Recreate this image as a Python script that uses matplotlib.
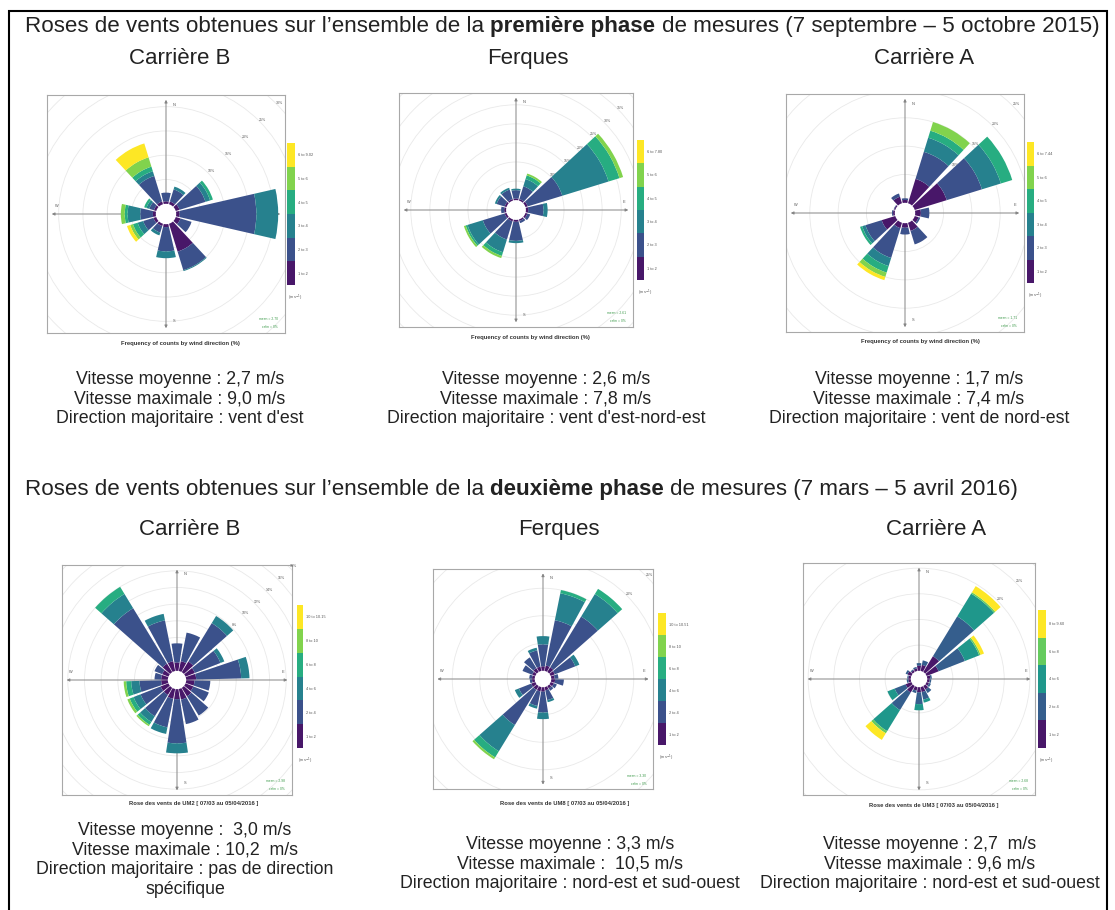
import numpy as np
import matplotlib
matplotlib.use("Agg")
import matplotlib.pyplot as plt
from matplotlib.colors import ListedColormap, BoundaryNorm
from matplotlib.cm import ScalarMappable
from matplotlib.patches import Circle, Rectangle

W, H = 1115, 910
TXT = "#222222"
plt.rcParams["font.family"] = ["Liberation Sans", "DejaVu Sans"]

# ---- data (frequency in % per direction, stacked by wind-speed class) ----
DIRS_P1 = [0, 30, 60, 90, 120, 150, 180, 210, 240, 270, 300, 330]
DIRS_P2 = [0, 20, 40, 60, 80, 100, 120, 140, 160, 180, 200, 220, 240, 260, 280, 300, 320, 340]

CB1 = [[0.5, 1.8, 0, 0, 0, 0], [0.6, 2.6, 0.6, 0, 0, 0], [0.8, 5.6, 1.0, 0.6, 0, 0],
       [0.7, 15.8, 4.5, 0, 0, 0], [1.0, 2.4, 0, 0, 0, 0], [6.0, 4.0, 0.2, 0, 0, 0],
       [0.6, 5.0, 1.4, 0, 0, 0], [0.5, 1.4, 0.6, 0, 0, 0], [0.6, 2.2, 1.2, 1.0, 0.6, 0.7],
       [0.6, 2.6, 2.6, 0.6, 0.8, 0], [0.5, 1.0, 0.6, 0.5, 0, 0], [0.6, 5.5, 1.0, 1.0, 2.0, 3.0]]
FQ1 = [[0.4, 2.2, 0.4, 0, 0, 0], [0.4, 3.5, 2.0, 1.0, 0.5, 0], [0.6, 9.5, 12.7, 3.0, 1.0, 0],
       [0.6, 4.0, 1.1, 0, 0, 0], [0.5, 0.8, 0, 0, 0, 0], [0.4, 0.6, 0, 0, 0, 0],
       [0.5, 5.0, 0.6, 0, 0, 0], [0.5, 5.0, 3.5, 1.0, 0.6, 0], [0.5, 6.0, 4.2, 0.5, 0.5, 0],
       [0.5, 0.8, 0, 0, 0, 0], [0.5, 2.2, 0.5, 0, 0, 0], [0.4, 2.6, 0.5, 0, 0, 0]]
CA1 = [[0.5, 0.3, 0, 0, 0, 0], [4.5, 5.0, 2.6, 1.3, 1.6, 0], [5.9, 6.5, 3.5, 2.1, 0, 0],
       [1.0, 1.5, 0, 0, 0, 0], [0.7, 0.3, 0, 0, 0, 0], [1.5, 2.5, 0, 0, 0, 0],
       [0.8, 1.2, 0, 0, 0, 0], [1.0, 5.5, 1.5, 1.2, 0.8, 0.6], [2.5, 3.0, 0.6, 0.4, 0, 0],
       [0.3, 0.2, 0, 0, 0, 0], [0.2, 0.1, 0, 0, 0, 0], [1.2, 0.6, 0, 0, 0, 0]]
CB2 = [[1.0, 2.3, 0, 0, 0, 0], [1.2, 3.5, 0, 0, 0, 0], [1.5, 5.4, 1.0, 0, 0, 0],
       [1.2, 3.3, 0.5, 0, 0, 0], [1.2, 5.4, 1.0, 0, 0, 0], [1.0, 1.9, 0, 0, 0, 0],
       [1.0, 2.0, 0, 0, 0, 0], [1.2, 2.7, 0, 0, 0, 0], [1.3, 3.0, 0, 0, 0, 0],
       [1.2, 5.3, 1.2, 0, 0, 0], [1.2, 3.5, 0.8, 0, 0, 0], [1.0, 3.0, 0.8, 0.4, 0.2, 0],
       [1.0, 2.6, 0.9, 0.5, 0.3, 0], [0.8, 2.6, 1.0, 0.6, 0.3, 0], [0.8, 0.8, 0, 0, 0, 0],
       [0.8, 1.0, 0, 0, 0, 0], [1.2, 7.8, 2.0, 1.0, 0, 0], [1.2, 5.0, 0.8, 0, 0, 0]]
FQ2 = [[0.8, 4.0, 1.5, 0, 0, 0], [1.0, 8.4, 5.0, 0.6, 0, 0], [1.0, 10.8, 4.8, 1.1, 0, 0],
       [0.8, 4.0, 0.8, 0, 0, 0], [0.6, 0.7, 0, 0, 0, 0], [0.7, 1.6, 0, 0, 0, 0],
       [0.6, 0.6, 0, 0, 0, 0], [0.5, 0.5, 0, 0, 0, 0], [0.6, 1.8, 0.4, 0, 0, 0],
       [0.8, 3.8, 1.2, 0, 0, 0], [0.8, 2.7, 0.5, 0, 0, 0], [0.8, 7.5, 5.6, 1.3, 0.4, 0],
       [0.8, 2.4, 0.8, 0, 0, 0], [0.5, 0.4, 0, 0, 0, 0], [0.5, 0.5, 0, 0, 0, 0],
       [0.6, 1.9, 0, 0, 0, 0], [0.8, 2.3, 0, 0, 0, 0], [0.8, 3.0, 0.5, 0, 0, 0]]
CA2 = [[1.0, 0.5, 0, 0, 0], [1.2, 0.9, 0, 0, 0], [3.6, 9.1, 5.2, 0.3, 1.4],
       [2.5, 5.5, 3.0, 0.3, 0.7], [0.6, 0.3, 0, 0, 0], [0.5, 0.3, 0, 0, 0],
       [0.5, 0.4, 0, 0, 0], [0.8, 0.8, 0, 0, 0], [1.0, 1.5, 0.6, 0, 0],
       [1.0, 2.3, 1.2, 0, 0], [0.7, 0.5, 0, 0, 0], [1.5, 4.0, 4.8, 0.5, 1.5],
       [1.2, 2.3, 1.5, 0, 0], [0.5, 0.3, 0, 0, 0], [0.5, 0.2, 0, 0, 0],
       [0.8, 0.4, 0, 0, 0], [0.4, 0.2, 0, 0, 0], [0.5, 0.3, 0, 0, 0]]

SPEEDS_CB1 = ["1 to 2", "2 to 3", "3 to 4", "4 to 5", "5 to 6", "6 to 9.02"]
SPEEDS_FQ1 = ["1 to 2", "2 to 3", "3 to 4", "4 to 5", "5 to 6", "6 to 7.80"]
SPEEDS_CA1 = ["1 to 2", "2 to 3", "3 to 4", "4 to 5", "5 to 6", "6 to 7.44"]
SPEEDS_CB2 = ["1 to 2", "2 to 4", "4 to 6", "6 to 8", "8 to 10", "10 to 10.15"]
SPEEDS_FQ2 = ["1 to 2", "2 to 4", "4 to 6", "6 to 8", "8 to 10", "10 to 10.51"]
SPEEDS_CA2 = ["1 to 2", "2 to 4", "4 to 6", "6 to 8", "8 to 9.60"]

MEANS = ["mean = 2.70", "mean = 2.61", "mean = 1.71", "mean = 2.98", "mean = 3.30", "mean = 2.68"]

STATS_P1 = [
    ["Vitesse moyenne : 2,7 m/s", "Vitesse maximale : 9,0 m/s", "Direction majoritaire : vent d'est"],
    ["Vitesse moyenne : 2,6 m/s", "Vitesse maximale : 7,8 m/s", "Direction majoritaire : vent d'est-nord-est"],
    ["Vitesse moyenne : 1,7 m/s", "Vitesse maximale : 7,4 m/s", "Direction majoritaire : vent de nord-est"],
]
STATS_P2 = [
    ["Vitesse moyenne :  3,0 m/s", "Vitesse maximale : 10,2  m/s", "Direction majoritaire : pas de direction", "spécifique"],
    ["Vitesse moyenne : 3,3 m/s", "Vitesse maximale :  10,5 m/s", "Direction majoritaire : nord-est et sud-ouest"],
    ["Vitesse moyenne : 2,7  m/s", "Vitesse maximale : 9,6 m/s", "Direction majoritaire : nord-est et sud-ouest"],
]
SITES = ["Carrière B", "Ferques", "Carrière A"]


def fx(x):
    return x / W


def fy(y):
    return 1 - y / H


def draw_rose(fig, cx, cy, half, dirs, segs, speeds, offset, lim, step, pct, mean, caption, cap_xy, cbar):
    rect = [fx(cx - half), fy(cy + half), 2 * half / W, 2 * half / H]
    ax = fig.add_axes(rect)
    ax.set_xlim(-lim, lim)
    ax.set_ylim(-lim, lim)
    ax.set_xticks([])
    ax.set_yticks([])
    for s in ax.spines.values():
        s.set_color("#a8a8a8")
        s.set_linewidth(0.8)
    k = 1
    while offset + k * step < lim * 1.45:
        r = offset + k * step
        ax.add_patch(Circle((0, 0), r, fill=False, ec="#e9e9e9", lw=0.6))
        if r * 0.7071 < lim * 0.98 and k >= 2:
            ax.text(r * 0.7071 + lim * 0.03, r * 0.7071 + lim * 0.01, "%d%%" % (k * pct),
                    fontsize=2.6, color="#555", ha="center", va="center")
        k += 1
    arrow = dict(arrowstyle="<|-|>", color="#858585", lw=0.7, mutation_scale=4, shrinkA=0, shrinkB=0)
    ax.annotate("", xy=(0, lim * 0.96), xytext=(0, -lim * 0.96), arrowprops=arrow)
    ax.annotate("", xy=(lim * 0.96, 0), xytext=(-lim * 0.96, 0), arrowprops=arrow)
    ax.add_patch(Circle((0, 0), offset, color="white", zorder=5))
    lab = dict(fontsize=2.8, color="#555", ha="center", va="center")
    ax.text(lim * 0.07, lim * 0.92, "N", **lab)
    ax.text(lim * 0.07, -lim * 0.9, "S", **lab)
    ax.text(lim * 0.92, lim * 0.07, "E", **lab)
    ax.text(-lim * 0.92, lim * 0.07, "W", **lab)
    ax.text(0.97, 0.055, mean, transform=ax.transAxes, fontsize=2.4, color="#3c9a4a", ha="right")
    ax.text(0.97, 0.02, "calm = 0%", transform=ax.transAxes, fontsize=2.4, color="#3c9a4a", ha="right")

    n = len(speeds)
    colors = plt.cm.viridis(np.linspace(0.06, 1.0, n))
    pax = fig.add_axes(rect, projection="polar")
    pax.set_theta_zero_location("N")
    pax.set_theta_direction(-1)
    pax.set_ylim(0, lim)
    pax.axis("off")
    segs = np.array(segs, dtype=float)
    theta = np.deg2rad(dirs)
    width = np.deg2rad((dirs[1] - dirs[0]) * 0.86)
    bottom = np.full(len(dirs), float(offset))
    for j in range(n):
        pax.bar(theta, segs[:, j], width=width, bottom=bottom, color=colors[j], edgecolor="none", linewidth=0)
        bottom += segs[:, j]

    x0, y0, x1, y1 = cbar
    cax = fig.add_axes([fx(x0), fy(y1), (x1 - x0) / W, (y1 - y0) / H])
    sm = ScalarMappable(norm=BoundaryNorm(np.arange(n + 1), n), cmap=ListedColormap(colors))
    cb = fig.colorbar(sm, cax=cax, ticks=np.arange(n) + 0.5)
    cb.ax.set_yticklabels(speeds, fontsize=2.8, color="#555")
    cb.ax.minorticks_off()
    cb.ax.tick_params(which="both", length=0, pad=2)
    cb.outline.set_visible(False)
    fig.text(fx(x0 + 1), fy(y1 + 14), "(m s$^{-1}$)", fontsize=2.8, color="#555")
    fig.text(fx(cap_xy[0]), fy(cap_xy[1]), caption, fontsize=4.2, fontweight="bold",
             color="#333", ha="center", va="center")


def text_width(fig, r, s, size, weight="normal"):
    t = fig.text(0, 0, s, fontsize=size, fontweight=weight)
    w = t.get_window_extent(r).width
    t.remove()
    return w


def rich_line(fig, r, x, y, parts, size):
    space = text_width(fig, r, "x x", size) - text_width(fig, r, "xx", size)
    for s, weight in parts:
        t = fig.text(fx(x), fy(y), s, fontsize=size, fontweight=weight, va="baseline", color=TXT)
        x += t.get_window_extent(r).width + space


fig = plt.figure(figsize=(W / 100, H / 100), dpi=100)
fig.patch.set_facecolor("white")
r = fig.canvas.get_renderer()

title1 = [("Roses de vents obtenues sur l’ensemble de la", "normal"), ("première phase", "bold"),
          ("de mesures (7 septembre – 5 octobre 2015)", "normal")]
title2 = [("Roses de vents obtenues sur l’ensemble de la", "normal"), ("deuxième phase", "bold"),
          ("de mesures (7 mars – 5 avril 2016)", "normal")]

# fit title size to the target width
base = 12
sp = text_width(fig, r, "x x", base) - text_width(fig, r, "xx", base)
tw = sum(text_width(fig, r, s, base, w) for s, w in title1) + 2 * sp
tsize = base * 1073 / tw

rich_line(fig, r, 25, 32, title1, tsize)
rich_line(fig, r, 25, 495, title2, tsize)

fig.add_artist(Rectangle((fx(9), fy(915)), (1107 - 9) / W, (915 - 11) / H,
                         transform=fig.transFigure, fill=False, ec="black", lw=1.5))

HEAD = 16.0
STAT = 12.8
for name, x in zip(SITES, [180, 528, 924]):
    fig.text(fx(x), fy(64), name, fontsize=HEAD, ha="center", va="baseline", color=TXT)
for name, x in zip(SITES, [190, 559, 936]):
    fig.text(fx(x), fy(535), name, fontsize=HEAD, ha="center", va="baseline", color=TXT)

for lines, x in zip(STATS_P1, [180, 546, 919]):
    for i, s in enumerate(lines):
        fig.text(fx(x), fy(384 + 19.5 * i), s, fontsize=STAT, ha="center", va="baseline", color=TXT)
for lines, x, y in zip(STATS_P2, [185, 570, 930], [835, 849, 849]):
    for i, s in enumerate(lines):
        fig.text(fx(x), fy(y + 19.5 * i), s, fontsize=STAT, ha="center", va="baseline", color=TXT)

cap1 = "Frequency of counts by wind direction (%)"
draw_rose(fig, 166, 214, 119, DIRS_P1, CB1, SPEEDS_CB1, 2.1, 24.5, 5, 5, MEANS[0],
          cap1, (180, 343), (287, 143, 295, 285))
draw_rose(fig, 516, 210, 117, DIRS_P1, FQ1, SPEEDS_FQ1, 2.6, 30.7, 5, 5, MEANS[1],
          cap1, (530, 338), (637, 140, 644, 280))
draw_rose(fig, 905, 213, 119, DIRS_P1, CA1, SPEEDS_CA1, 1.8, 21.0, 5, 5, MEANS[2],
          cap1, (920, 342), (1027, 142, 1034, 283))
draw_rose(fig, 177, 680, 115, DIRS_P2, CB2, SPEEDS_CB2, 1.1, 13.8, 2, 2, MEANS[3],
          "Rose des vents de UM2 [ 07/03 au 05/04/2016 ]", (194, 803), (297, 605, 303, 748))
draw_rose(fig, 543, 679, 110, DIRS_P2, FQ2, SPEEDS_FQ2, 1.5, 20.0, 5, 5, MEANS[4],
          "Rose des vents de UM8 [ 07/03 au 05/04/2016 ]", (565, 803), (658, 613, 666, 745))
draw_rose(fig, 919, 679, 116, DIRS_P2, CA2, SPEEDS_CA2, 1.6, 22.6, 5, 5, MEANS[5],
          "Rose des vents de UM3 [ 07/03 au 05/04/2016 ]", (934, 805), (1038, 610, 1046, 748))

fig.savefig("out.png", dpi=100)
